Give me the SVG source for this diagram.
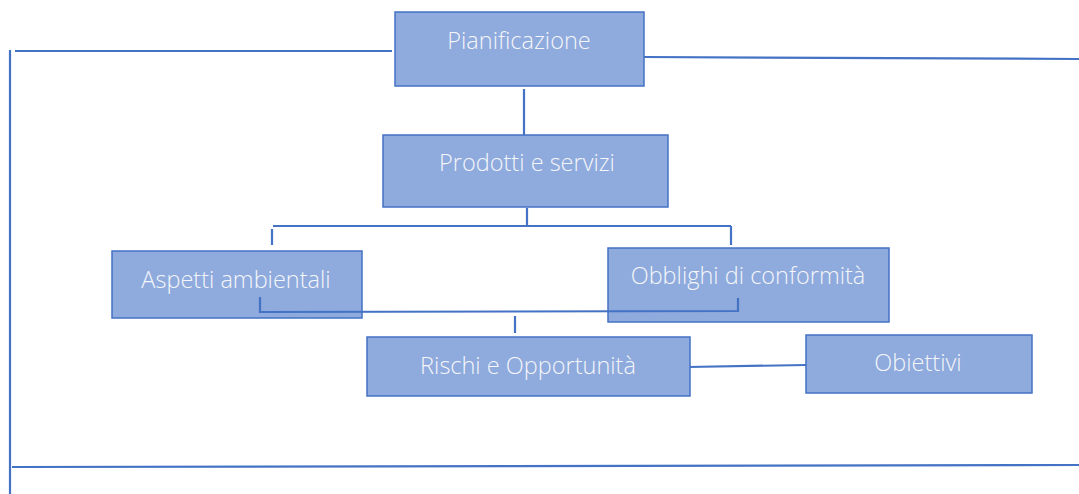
<svg xmlns="http://www.w3.org/2000/svg" width="1079" height="494" viewBox="0 0 1079 494">
<style>
.box{fill:#8FAADC;stroke:#4472C4;stroke-width:1.5}
.lbl{font-family:"Open Sans","Liberation Sans",sans-serif;font-weight:300;font-size:23.5px;fill:#F4F6FA;text-anchor:middle}
.ln{stroke:#4472C4;stroke-width:2.2;fill:none}
</style>
<rect width="1079" height="494" fill="#FFFFFF"/>
<g id="connectors">
<line class="ln" x1="10" y1="50" x2="10" y2="494"/>
<line class="ln" x1="15" y1="51" x2="392" y2="51"/>
<line class="ln" x1="644" y1="57" x2="1079" y2="59"/>
<line class="ln" x1="12" y1="467" x2="1079" y2="465"/>
<line class="ln" x1="524" y1="89" x2="524" y2="135"/>
<polyline class="ln" points="527,208 527,226"/>
<line class="ln" x1="273" y1="226" x2="731" y2="226"/>
<line class="ln" x1="272" y1="229" x2="272" y2="245"/>
<line class="ln" x1="731" y1="226" x2="731" y2="245"/>
<line class="ln" x1="515" y1="316" x2="515" y2="333"/>
<line class="ln" x1="688" y1="367" x2="807" y2="365"/>
</g>
<g id="pianificazione">
<rect class="box" x="395" y="12" width="249" height="74"/>
<text class="lbl" x="519" y="49">Pianificazione</text>
</g>
<g id="prodotti">
<rect class="box" x="383" y="135" width="285" height="72"/>
<text class="lbl" x="527" y="171">Prodotti e servizi</text>
</g>
<g id="aspetti">
<rect class="box" x="112" y="251" width="250" height="67"/>
<text class="lbl" x="236" y="288">Aspetti ambientali</text>
</g>
<g id="obblighi">
<rect class="box" x="608" y="248" width="281" height="74"/>
<text class="lbl" x="748" y="284">Obblighi di conformità</text>
</g>
<g id="join">
<polyline class="ln" points="260,297 260,312 738,311 738,298"/>
</g>
<g id="rischi">
<rect class="box" x="367" y="337" width="323" height="59"/>
<text class="lbl" x="528" y="374">Rischi e Opportunità</text>
</g>
<g id="obiettivi">
<rect class="box" x="806" y="335" width="226" height="58"/>
<text class="lbl" x="918" y="371">Obiettivi</text>
</g>
</svg>
